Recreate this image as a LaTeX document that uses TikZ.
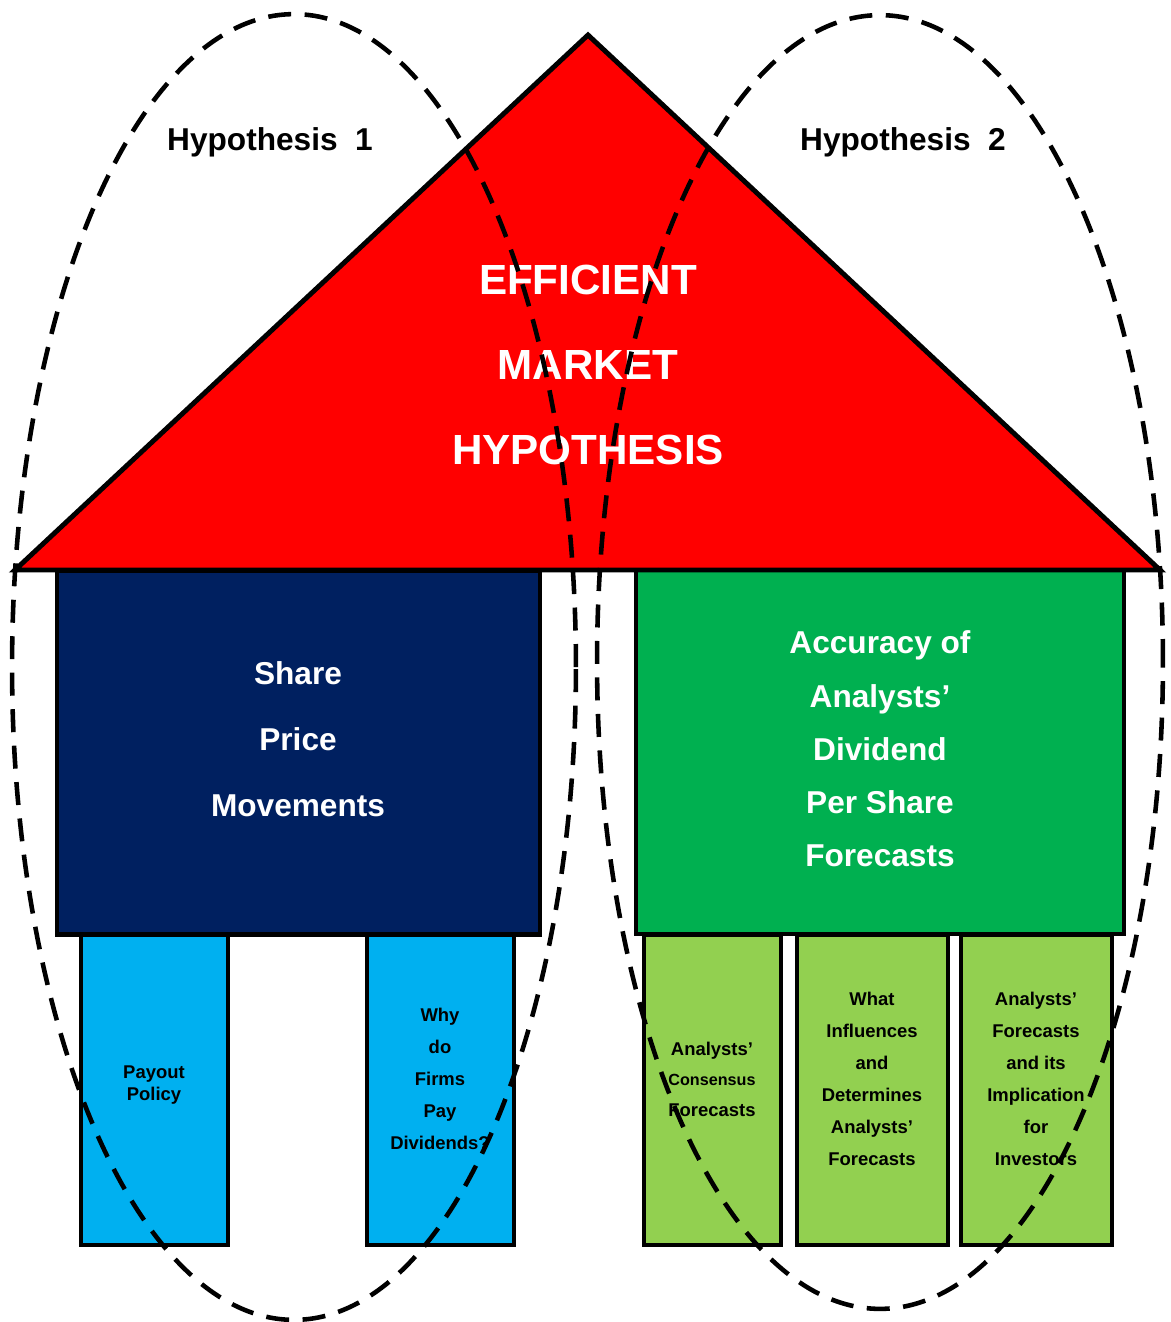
\documentclass[tikz,border=0pt]{standalone}
\usepackage{fontspec}
\setmainfont{Liberation Sans}
\definecolor{roofred}{HTML}{FF0000}
\definecolor{navybox}{HTML}{002060}
\definecolor{greenbox}{HTML}{00B050}
\definecolor{skypillar}{HTML}{00B0F0}
\definecolor{limepillar}{HTML}{92D050}
\begin{document}
\begin{tikzpicture}[x=0.02cm, y=-0.02cm,
        roof/.style={draw=black, line width=2.8pt, fill=roofred},
        bigbox/.style={rectangle, draw=black, line width=2.5pt, minimum height=7.28cm, inner sep=0pt},
        pillar/.style={rectangle, draw=black, line width=2.5pt, minimum height=6.2cm, inner sep=0pt},
        bigtxt/.style={align=center, text=white, font=\bfseries\fontsize{18}{37.4}\selectfont},
        pillartxt/.style={align=center, font=\bfseries\fontsize{10.5}{18.2}\selectfont},
        hypo/.style={dash pattern=on 0.46cm off 0.27cm, line width=2.6pt}
    ]
    \useasboundingbox (0,0) rectangle (1170,1322);
    \node[pillar, fill=skypillar, minimum width=2.94cm] (payout) at (154.5,1090) {};
    \node[pillar, fill=skypillar, minimum width=2.94cm] (whypay) at (440.5,1090) {};
    \node[pillar, fill=limepillar, minimum width=2.74cm] (consensus) at (712.5,1090) {};
    \node[pillar, fill=limepillar, minimum width=3.02cm] (influences) at (872.5,1090) {};
    \node[pillar, fill=limepillar, minimum width=3.02cm] (implication) at (1036.5,1090) {};
    \node[bigbox, fill=navybox, minimum width=9.66cm] (share) at (298.5,752.5) {};
    \node[bigbox, fill=greenbox, minimum width=9.76cm] (accuracy) at (880,752) {};
    \coordinate (apex) at (588,35);
    \coordinate (eaveL) at (15,570);
    \coordinate (eaveR) at (1160,570);
    \draw[roof] (apex) -- (eaveR) -- (eaveL) -- cycle;
    \node[align=center, text=white, font=\bfseries\fontsize{24}{48.2}\selectfont] (emh) at (588,365) {EFFICIENT\\MARKET\\HYPOTHESIS};
    \node[bigtxt] (sharetxt) at (298,739) {Share\\Price\\Movements};
    \node[bigtxt, font=\bfseries\fontsize{18}{30.3}\selectfont] (accuracytxt) at (880,749) {Accuracy of\\Analysts’\\Dividend\\Per Share\\Forecasts};
    \node[pillartxt, font=\bfseries\fontsize{10.5}{12.5}\selectfont] (payouttxt) at (154,1085) {Payout\\Policy};
    \node[pillartxt] (whypaytxt) at (440,1079) {Why\\do\\Firms\\Pay\\Dividends?};
    \node[pillartxt, font=\bfseries\fontsize{10.5}{17.4}\selectfont] (consensustxt) at (712,1079) {Analysts’\\{\fontsize{9.2}{17.4}\selectfont Consensus}\\Forecasts};
    \node[pillartxt] (influencestxt) at (872,1079) {What\\Influences\\and\\Determines\\Analysts’\\Forecasts};
    \node[pillartxt] (implicationtxt) at (1036,1079) {Analysts’\\Forecasts\\and its\\Implication\\for\\Investors};
    \node[font=\bfseries\fontsize{18}{22}\selectfont] (hypone) at (270,142) {Hypothesis\ \ 1};
    \node[font=\bfseries\fontsize{18}{22}\selectfont] (hyptwo) at (903,142) {Hypothesis\ \ 2};
    \draw[hypo] (294,667) ellipse [x radius=5.64cm, y radius=13.06cm];
    \draw[hypo] (880,662) ellipse [x radius=5.66cm, y radius=12.94cm];
\end{tikzpicture}
\end{document}
